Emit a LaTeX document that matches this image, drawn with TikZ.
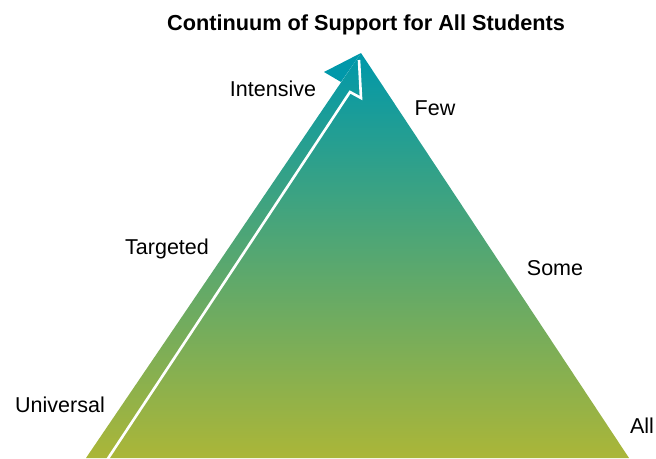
\documentclass[tikz,border=0pt]{standalone}
\usepackage{fontspec}
\setmainfont{Liberation Sans}
\usepackage{tikz}
\definecolor{tealtop}{RGB}{0,152,170}
\definecolor{olivebot}{RGB}{171,182,56}

\begin{document}
\begin{tikzpicture}[x=1pt, y=-1pt, lbl/.style={font=\fontsize{21.5}{24}\selectfont, inner sep=0pt, anchor=base}]
			\useasboundingbox (0,0) rectangle (656,458);
			\coordinate (L) at (86,458);
			\coordinate (R) at (629,458);
			\coordinate (T) at (361,53);
			\shade[top color=tealtop, bottom color=olivebot] (L) -- (T) -- (R) -- cycle;
			\coordinate (B1) at (324,72);
			\coordinate (B2) at (341,82);
			\fill[tealtop] (T) -- (B1) -- (B2) -- cycle;
			\coordinate (S) at (107,460);
			\coordinate (N1) at (350,92);
			\coordinate (N2) at (361,98);
			\coordinate (N3) at (359,60);
			\draw[white, line width=2.6pt] (S) -- (N1) -- (N2) -- (N3);
			\node[lbl, font=\fontsize{21.7}{24}\bfseries] (title) at (366,30) {Continuum of Support for All Students};
			\node[lbl] (intensive) at (273,96) {Intensive};
			\node[lbl] (few) at (435,115) {Few};
			\node[lbl] (targeted) at (167,254) {Targeted};
			\node[lbl] (some) at (555,275) {Some};
			\node[lbl] (universal) at (60,412) {Universal};
			\node[lbl] (all) at (642,433) {All};
			\end{tikzpicture}
\end{document}
